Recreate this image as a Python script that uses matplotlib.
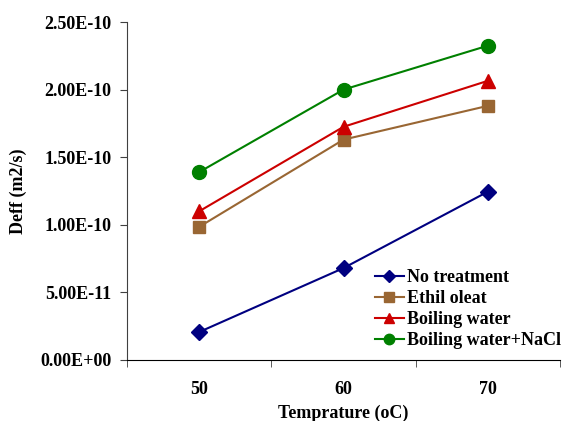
import matplotlib
matplotlib.use("Agg")
import matplotlib.pyplot as plt
from matplotlib.ticker import FixedLocator

categories = ["50", "60", "70"]
no_treatment = [2.07e-11, 6.8e-11, 1.245e-10]
ethil_oleat = [9.85e-11, 1.63e-10, 1.88e-10]
boiling_water = [1.10e-10, 1.725e-10, 2.065e-10]
boiling_nacl = [1.39e-10, 2.0e-10, 2.325e-10]
yticks = [0, 5e-11, 1e-10, 1.5e-10, 2e-10, 2.5e-10]
ytick_labels = ["0.00E+00", "5.00E-11", "1.00E-10", "1.50E-10", "2.00E-10", "2.50E-10"]

plt.rcParams['font.family'] = ['Liberation Serif', 'DejaVu Serif']
plt.rcParams['font.weight'] = 'bold'

fig = plt.figure(figsize=(5.63, 4.21), dpi=100)
ax = fig.add_axes([0.2256, 0.1449, 0.7691, 0.8028])

x = list(range(len(categories)))
series = [
    (no_treatment, "No treatment", "#000080", "D", 8.5),
    (ethil_oleat, "Ethil oleat", "#996633", "s", 9),
    (boiling_water, "Boiling water", "#CC0000", "^", 10),
    (boiling_nacl, "Boiling water+NaCl", "#008000", "o", 10),
]
for vals, lab, col, mk, ms in series:
    ax.plot(x, vals, color=col, marker=mk, markersize=ms, linewidth=1.5, label=lab)

ax.set_xlim(-0.5, 2.5)
ax.set_ylim(0, 2.5e-10)
ax.set_yticks(yticks)
ax.set_yticklabels(ytick_labels, fontsize=13, fontweight='bold')
ax.set_xticks(x)
ax.set_xticklabels(categories, fontsize=13, fontweight='bold')
ax.tick_params(axis='x', length=0, pad=15)
ax.xaxis.set_minor_locator(FixedLocator([-0.5, 0.5, 1.5, 2.5]))
ax.tick_params(axis='x', which='minor', length=5, color='#404040')
ax.tick_params(axis='y', length=5, color='#404040', pad=6)
for s in ['top', 'right']:
    ax.spines[s].set_visible(False)
ax.spines['left'].set_color('#404040')
ax.spines['bottom'].set_color('black')

ax.set_ylabel("Deff (m2/s)", fontsize=13, fontweight='bold', labelpad=10)
ax.set_xlabel("Temprature (oC)", fontsize=13, fontweight='bold', labelpad=5)

leg = ax.legend(loc='lower right', bbox_to_anchor=(1.02, 0.01), frameon=False,
                fontsize=13, handlelength=1.6, handletextpad=0.2,
                labelspacing=0.22, borderaxespad=0.0, markerscale=0.75)
for t in leg.get_texts():
    t.set_fontweight('bold')

fig.savefig("out.png", dpi=100)
